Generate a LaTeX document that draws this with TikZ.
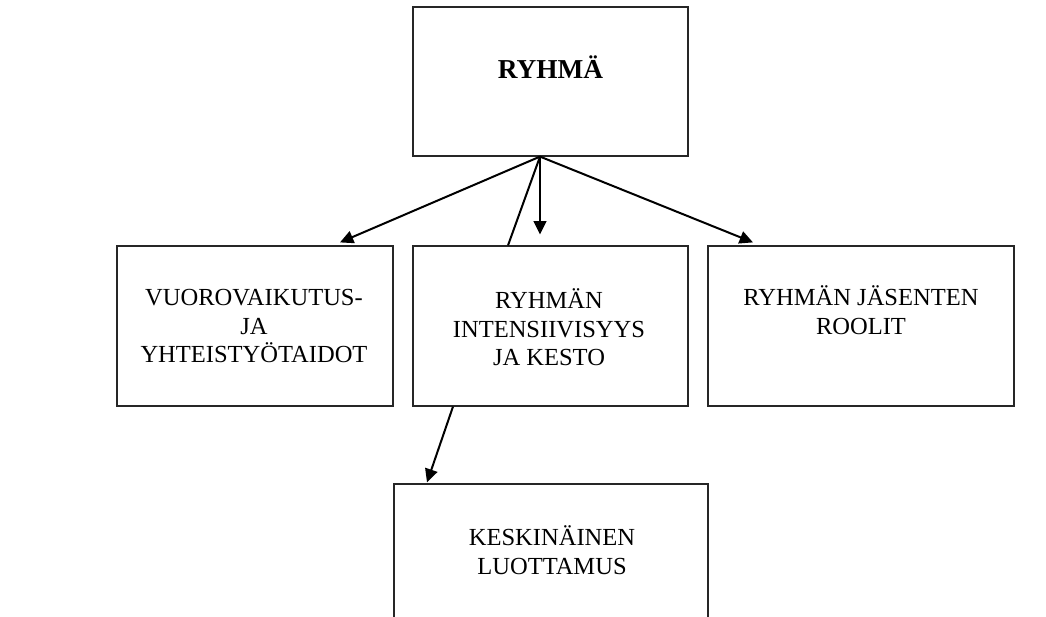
\documentclass[tikz,border=0pt]{standalone}
\usepackage{fontspec}
\setmainfont{Liberation Serif}
\usetikzlibrary{arrows.meta,calc}
\begin{document}
\begin{tikzpicture}[x=0.75pt,y=-0.75pt,
  box/.style={draw=black!85,line width=0.9pt,rectangle,inner sep=0pt},
  label/.style={align=center,font=\fontsize{18.4}{21.4}\selectfont,inner sep=0pt},
  link/.style={draw=black,line width=1.5pt},
  arr/.style={link,-{Triangle[length=10pt,width=9.5pt]}}]
  \clip (0,0) rectangle (1046,617);
  \fill[white] (0,0) rectangle (1046,617);

  % boxes
  \node[box,minimum width=275*0.75pt,minimum height=149*0.75pt] (ryhma) at (550.5,81.5) {};
  \node[box,minimum width=276*0.75pt,minimum height=160*0.75pt] (vuoro) at (255,326) {};
  \node[box,minimum width=275*0.75pt,minimum height=160*0.75pt] (intens) at (550.5,326) {};
  \node[box,minimum width=306*0.75pt,minimum height=160*0.75pt] (roolit) at (861,326) {};
  \node[box,minimum width=314*0.75pt,minimum height=160*0.75pt] (luott) at (551,564) {};

  % texts
  \node[inner sep=0pt,anchor=base,font=\fontsize{20.5}{23}\selectfont\bfseries] (tRyhma) at (550.5,78.5) {RYHMÄ};
  \node[label] (tVuoro) at (254,326) {VUOROVAIKUTUS-\\JA\\YHTEISTYÖTAIDOT};
  \node[label] (tIntens) at (549,327.5) {RYHMÄN\\INTENSIIVISYYS\\JA KESTO};
  \node[label] (tRoolit) at (861,310) {RYHMÄN JÄSENTEN\\ROOLIT};
  \node[label] (tLuott) at (552,550) {KESKINÄINEN\\LUOTTAMUS};

  % connectors
  \coordinate (hub) at ($(ryhma.south)+(-10.5,0)$);
  \draw[arr] (hub) -- ($(vuoro.north)+(85,-3)$);
  \draw[link] (hub) -- ($(intens.north)+(-42.5,0)$);
  \draw[arr] (hub) -- ($(intens.north)+(-10.5,-11)$);
  \draw[arr] (hub) -- ($(roolit.north)+(-108,-3)$);
  \draw[arr] ($(intens.south)+(-97.5,0)$) -- ($(luott.north)+(-124,-1)$);
\end{tikzpicture}
\end{document}
